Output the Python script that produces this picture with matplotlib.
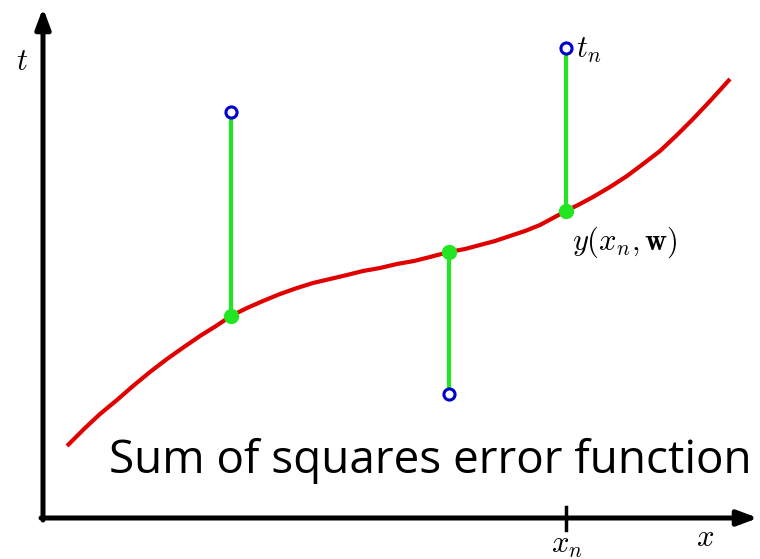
import matplotlib.pyplot as plt
import numpy as np

plt.rcParams['mathtext.fontset'] = 'cm'

# red curve y(x, w) (pixel coords)
curve_x = [67, 84, 100, 117, 133, 150, 167, 184, 200, 216, 231, 247, 263, 280,
           297, 313, 330, 347, 363, 380, 397, 414, 430, 449, 465, 480, 495,
           510, 525, 540, 553, 566, 580, 593, 610, 627, 643, 660, 677, 693,
           711, 730]
curve_y = [446, 429, 414, 400, 386, 372, 359, 347, 336, 326, 316, 308, 301, 294,
           288, 283, 279, 275, 271, 268, 264, 261, 257, 252, 249, 245, 241,
           236, 231, 225, 218, 211, 204, 197, 187, 176, 164, 151, 135, 119,
           100, 79]

# observed targets t_n and model predictions y(x_n, w)
pt_x = [231, 449, 566]
pt_t = [112, 394, 48]
pt_y = [316, 252, 211]

fig = plt.figure(figsize=(7.6, 5.59), dpi=100)
ax = fig.add_axes([0, 0, 1, 1])
ax.set_xlim(0, 760)
ax.set_ylim(559, 0)
ax.axis('off')

# axes with arrows
ax.annotate('', xy=(43, 8), xytext=(43, 520),
            arrowprops=dict(arrowstyle='-|>,head_length=1.2,head_width=0.45',
                            color='k', lw=3.6, shrinkA=0, shrinkB=0))
ax.annotate('', xy=(758, 518), xytext=(41, 518),
            arrowprops=dict(arrowstyle='-|>,head_length=1.2,head_width=0.45',
                            color='k', lw=3.6, shrinkA=0, shrinkB=0))
ax.plot([566, 566], [507, 530], color='k', lw=2.5)

ax.plot(curve_x, curve_y, color='#e00000', lw=3, zorder=2,
        solid_capstyle='butt', solid_joinstyle='round')

for x, t, y in zip(pt_x, pt_t, pt_y):
    ax.plot([x, x], [t, y], color='#22e622', lw=3, zorder=3)
ax.plot(pt_x, pt_y, 'o', color='#22e622', ms=10, zorder=4)
ax.plot(pt_x, pt_t, 'o', mfc='white', mec='#0000cc', mew=2.2, ms=8, zorder=5)

ax.text(22, 62, '$t$', fontsize=22, ha='center', va='center')
ax.text(705, 538, '$x$', fontsize=22, ha='center', va='center')
ax.text(567, 545, '$x_n$', fontsize=22, ha='center', va='center')
ax.text(576, 50, '$t_n$', fontsize=22, ha='left', va='center')
ax.text(572, 242, r'$y(x_n,\mathbf{w})$', fontsize=22, ha='left', va='center')

ax.text(752, 473, 'Sum of squares error function', fontsize=33,
        family='Open Sans', ha='right', va='baseline')

plt.savefig('out.png', dpi=100)
